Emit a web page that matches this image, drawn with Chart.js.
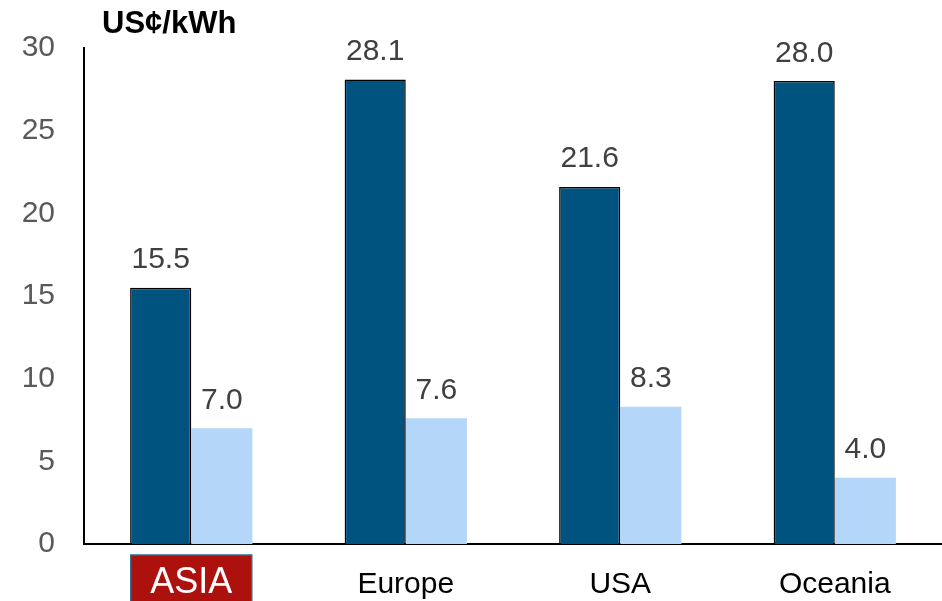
<!DOCTYPE html>
<html>
<head>
<meta charset="utf-8">
<script src="https://cdn.jsdelivr.net/npm/chart.js@4.4.1/dist/chart.umd.min.js"></script>
<style>
  html, body { margin: 0; padding: 0; background: #ffffff; }
  #wrap { width: 942px; height: 601px; position: relative; }
</style>
</head>
<body>
<div id="wrap"><canvas id="c" width="942" height="601"></canvas></div>
<script>
// Electricity price by region, US cents per kWh
const regions = ['ASIA', 'Europe', 'USA', 'Oceania'];
const seriesA = [15.5, 28.1, 21.6, 28.0];
const seriesB = [7.0, 7.6, 8.3, 4.0];
const yTicks = [0, 5, 10, 15, 20, 25, 30];
const unitLabel = 'US\u00a2/kWh';

const FONT = '"Liberation Sans", Arial, sans-serif';

// Writes each bar's value just above its top
const valueLabels = {
  id: 'valueLabels',
  afterDatasetsDraw(chart) {
    const ctx = chart.ctx;
    ctx.save();
    ctx.font = '30px ' + FONT;
    ctx.fillStyle = '#404040';
    ctx.textAlign = 'center';
    ctx.textBaseline = 'alphabetic';
    chart.data.datasets.forEach((ds, i) => {
      chart.getDatasetMeta(i).data.forEach((bar, j) => {
        ctx.fillText(ds.data[j].toFixed(1), bar.x, bar.y - 19.5);
      });
    });
    ctx.restore();
  }
};

// Category names under the axis (first one highlighted in a red box) and the unit caption
const extras = {
  id: 'extras',
  afterDraw(chart) {
    const ctx = chart.ctx;
    const xs = chart.scales.x;
    ctx.save();
    const cx0 = xs.getPixelForValue(0);
    ctx.fillStyle = '#AD110E';
    ctx.strokeStyle = '#2F6A93';
    ctx.lineWidth = 1.5;
    ctx.fillRect(cx0 - 60.5, 555, 121, 60);
    ctx.strokeRect(cx0 - 60.5, 555, 121, 60);

    ctx.textAlign = 'center';
    ctx.textBaseline = 'alphabetic';
    regions.forEach((name, i) => {
      const cx = xs.getPixelForValue(i);
      if (i === 0) {
        ctx.font = '36px ' + FONT;
        ctx.fillStyle = '#ffffff';
      } else {
        ctx.font = '30px ' + FONT;
        ctx.fillStyle = '#000000';
      }
      ctx.fillText(name, cx, 593);
    });

    ctx.font = 'bold 31px ' + FONT;
    ctx.fillStyle = '#000000';
    ctx.textAlign = 'left';
    ctx.fillText(unitLabel, 102, 33);
    ctx.restore();
  }
};

new Chart(document.getElementById('c'), {
  type: 'bar',
  data: {
    labels: regions,
    datasets: [
      {
        data: seriesA,
        backgroundColor: '#00527F',
        borderColor: '#000000',
        borderWidth: 1.5,
        borderSkipped: 'bottom',
        categoryPercentage: 0.57,
        barPercentage: 1.0
      },
      {
        data: seriesB,
        backgroundColor: '#B4D6F8',
        borderWidth: 0,
        categoryPercentage: 0.57,
        barPercentage: 1.0
      }
    ]
  },
  options: {
    responsive: false,
    animation: false,
    devicePixelRatio: 1,
    layout: { padding: { top: 48, right: 0, bottom: 0, left: 0 } },
    plugins: {
      legend: { display: false },
      tooltip: { enabled: false }
    },
    scales: {
      x: {
        grid: { display: false, drawTicks: false },
        border: { display: true, color: '#000000', width: 2 },
        ticks: { display: false },
        afterFit(scale) { scale.height = 57; }
      },
      y: {
        min: 0,
        max: 30,
        afterBuildTicks(scale) { scale.ticks = yTicks.map(v => ({ value: v })); },
        grid: { display: false, drawTicks: false },
        border: { display: true, color: '#000000', width: 2 },
        ticks: {
          padding: 29,
          font: { family: FONT, size: 30 },
          color: '#595959'
        },
        afterFit(scale) { scale.width = 84; }
      }
    }
  },
  plugins: [valueLabels, extras]
});
</script>
</body>
</html>
